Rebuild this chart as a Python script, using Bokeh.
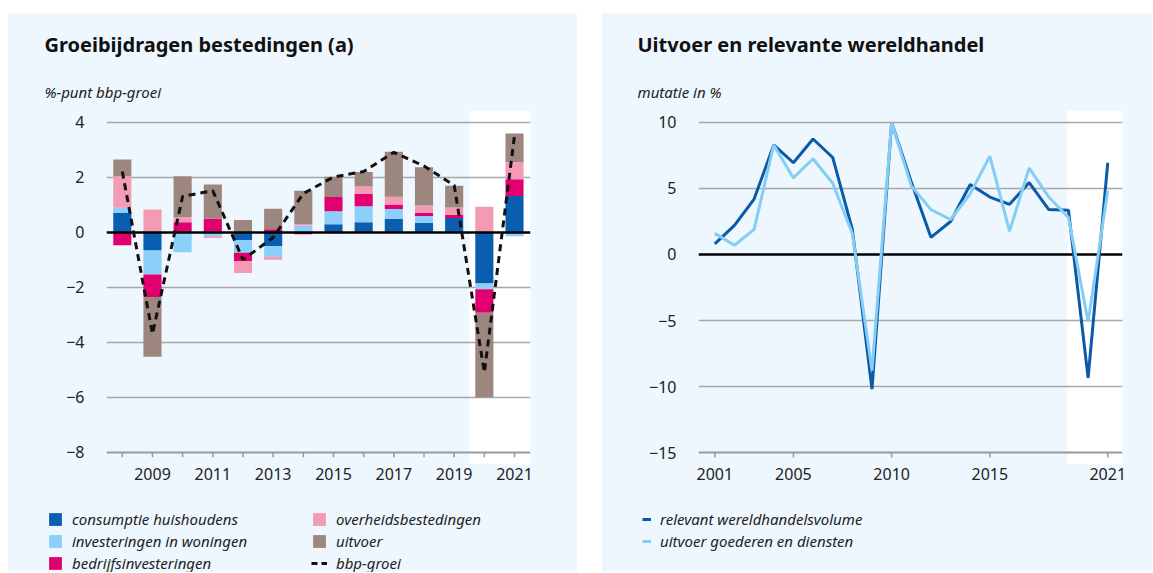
from bokeh.plotting import figure
from bokeh.models import BoxAnnotation, Legend, LegendItem, Label, FixedTicker, Spacer, Range1d
from bokeh.layouts import row, column
from bokeh.embed import file_html
from bokeh.resources import INLINE

# ---------------- data: left chart ----------------
years_l = [2008, 2009, 2010, 2011, 2012, 2013, 2014, 2015, 2016, 2017, 2018, 2019, 2020, 2021]
consumptie = [0.70, -0.67, 0.00, 0.00, -0.30, -0.51, 0.00, 0.28, 0.36, 0.48, 0.34, 0.51, -1.87, 1.31]
woningen = [0.18, -0.87, -0.73, -0.15, -0.45, -0.39, 0.24, 0.48, 0.58, 0.36, 0.24, 0.00, -0.21, -0.15]
bedrijf = [-0.48, -0.82, 0.36, 0.48, -0.30, 0.10, -0.08, 0.51, 0.45, 0.16, 0.12, 0.11, -0.85, 0.61]
overheid = [1.15, 0.82, 0.18, -0.07, -0.44, -0.11, 0.05, -0.05, 0.27, 0.28, 0.27, 0.27, 0.92, 0.63]
uitvoer = [0.61, -2.17, 1.49, 1.25, 0.44, 0.75, 1.21, 0.74, 0.52, 1.64, 1.39, 0.79, -3.07, 1.03]
bbp = [2.2, -3.7, 1.3, 1.5, -1.0, -0.2, 1.4, 2.0, 2.2, 2.9, 2.4, 1.7, -5.1, 3.5]
labels_l = ["consumptie huishoudens", "investeringen in woningen", "bedrijfsinvesteringen",
            "overheidsbestedingen", "uitvoer", "bbp-groei"]
yticks_l = [4, 2, 0, -2, -4, -6, -8]
xticks_l = [2009, 2011, 2013, 2015, 2017, 2019, 2021]

# ---------------- data: right chart ----------------
years_r = list(range(2001, 2022))
wereldhandel = [0.8, 2.2, 4.2, 8.3, 6.95, 8.75, 7.35, 1.9, -10.2, 10.0, 5.5, 1.3, 2.5, 5.3,
                4.35, 3.8, 5.45, 3.4, 3.35, -9.35, 6.95]
uitvoer_gd = [1.6, 0.7, 1.9, 8.3, 5.8, 7.25, 5.4, 1.6, -8.8, 10.0, 5.2, 3.4, 2.65, 4.6,
              7.45, 1.75, 6.55, 4.35, 2.8, -5.1, 4.85]
labels_r = ["relevant wereldhandelsvolume", "uitvoer goederen en diensten"]
yticks_r = [10, 5, 0, -5, -10, -15]
xticks_r = [2001, 2005, 2010, 2015, 2021]

# ---------------- styles ----------------
BG = "#eef7fe"
C_CONS = "#0a5eaf"
C_WON = "#8ccff8"
C_BED = "#e2006f"
C_OVH = "#f39ab4"
C_UIT = "#9c867e"
C_DARK = "#0b5aa8"
C_LIGHT = "#84cdf5"
GRID = "#a8a8a8"
AXIS = "#9a9a9a"
TXT = "#222222"
FONT = "Noto Sans"

HEAD_H = 97
FRAME_H = 354
AX_H = 30
LEG_H = 78
LEG_TOP = 15
PANEL_STYLE = {"background-color": BG}


def minus(v):
    return f"{v:g}".replace("-", "\u2212")


def base_fig(width, height, **kw):
    p = figure(width=width, height=height, output_backend="svg", toolbar_location=None,
               title_location=None, **kw)
    p.background_fill_color = BG
    p.border_fill_color = BG
    p.outline_line_color = None
    p.grid.visible = False
    return p


def header(width, x0, title, subtitle):
    h = base_fig(width, HEAD_H, x_range=Range1d(0, width), y_range=Range1d(0, HEAD_H),
                 x_axis_location=None, y_axis_location=None, min_border=0,
                 min_border_left=0, min_border_right=0, min_border_top=0, min_border_bottom=0)
    h.add_layout(Label(x=x0, y=HEAD_H - 49.5 + 19, text=title, text_font=FONT,
                       text_font_size="20px", text_font_style="bold", text_color="#111111",
                       text_align="left", text_baseline="alphabetic"))
    h.add_layout(Label(x=x0, y=HEAD_H - 97.5 + 19, text=subtitle, text_font=FONT,
                       text_font_size="15px", text_font_style="italic", text_color=TXT,
                       text_align="left", text_baseline="alphabetic"))
    return row(h, styles=PANEL_STYLE)


def legend_fig(width, left, specs, gw, gh, spacing):
    # the legend swatches come from renderers of the data that lie outside this small view
    f = base_fig(width, LEG_H, x_range=Range1d(0, 1), y_range=Range1d(0, 1),
                 x_axis_location=None, y_axis_location=None,
                 min_border_left=left, min_border_top=LEG_TOP, min_border_right=0,
                 min_border_bottom=0)
    items = []
    for label, kind, col, dash, xs, ys in specs:
        if kind == "bar":
            r = f.vbar(x=xs, top=ys, width=0.5, fill_color=col, line_color=None)
        else:
            r = f.line(x=xs, y=ys, line_color=col, line_width=3, line_dash=dash)
        items.append(LegendItem(label=label, renderers=[r]))
    leg = Legend(items=items, location="top_left", orientation="vertical",
                 glyph_width=gw, glyph_height=gh, label_height=gh, label_standoff=9,
                 spacing=spacing, padding=0, margin=0,
                 border_line_color=None, background_fill_alpha=0,
                 label_text_font=FONT, label_text_font_size="15px",
                 label_text_font_style="italic", label_text_color=TXT)
    f.add_layout(leg)
    return f


def main_fig(width, left, frame_w, xr, yr, yticks, xticks, minor, tick_len):
    p = base_fig(width, FRAME_H + AX_H, x_range=Range1d(*xr), y_range=Range1d(*yr),
                 min_border_left=left, min_border_right=width - left - frame_w,
                 min_border_top=0, min_border_bottom=AX_H)

    ya = p.yaxis[0]
    ya.ticker = FixedTicker(ticks=yticks)
    ya.axis_line_color = None
    ya.major_tick_line_color = None
    ya.minor_tick_line_color = None
    ya.major_tick_out = 0
    ya.major_tick_in = 0
    ya.major_label_standoff = 22
    ya.major_label_text_font = FONT
    ya.major_label_text_font_size = "16px"
    ya.major_label_text_color = TXT
    ya.major_label_overrides = {t: minus(t) for t in yticks}

    xa = p.xaxis[0]
    xa.ticker = FixedTicker(ticks=xticks)
    xa.axis_line_color = None
    xa.major_tick_line_color = None
    xa.minor_tick_line_color = None
    xa.major_tick_out = 0
    xa.major_tick_in = 0
    xa.major_label_standoff = 3
    xa.major_label_text_font = FONT
    xa.major_label_text_font_size = "16px"
    xa.major_label_text_color = TXT
    xa.formatter.use_scientific = False

    ymin = yticks[-1]
    p.hspan(y=[t for t in yticks if t not in (0, ymin)], line_color=GRID, line_width=1.5)
    p.hspan(y=[ymin], line_color=AXIS, line_width=2)
    dy = tick_len * (yr[1] - yr[0]) / FRAME_H
    p.segment(x0=minor, y0=[ymin] * len(minor), x1=minor, y1=[ymin - dy] * len(minor),
              line_color=AXIS, line_width=1.5)
    return p


# ================= left panel =================
xr1 = (2007.476, 2021.53)
yr1 = (-8.447, 4.418)
p1 = main_fig(569, 98, 424, xr1, yr1, yticks_l, xticks_l, years_l, 5)
p1.add_layout(BoxAnnotation(left=2019.5, fill_color="white", fill_alpha=1, line_color=None,
                            level="underlay"))

series = [consumptie, woningen, bedrijf, overheid, uitvoer]
colors = [C_CONS, C_WON, C_BED, C_OVH, C_UIT]
pos = [0.0] * len(years_l)
neg = [0.0] * len(years_l)
for vals, col in zip(series, colors):
    bot, top = [], []
    for i, v in enumerate(vals):
        if v >= 0:
            bot.append(pos[i]); top.append(pos[i] + v); pos[i] += v
        else:
            bot.append(neg[i]); top.append(neg[i] + v); neg[i] += v
    p1.vbar(x=years_l, width=0.6, bottom=bot, top=top, fill_color=col, line_color=None)

p1.hspan(y=[0], line_color="black", line_width=2.5)
p1.line(years_l, bbp, line_color="#111111", line_width=3, line_dash="7 5")

h1 = header(569, 36, "Groeibijdragen bestedingen (a)", "%-punt bbp-groei")
lg1a = legend_fig(303, 39, [(labels_l[0], "bar", C_CONS, "solid", years_l, consumptie),
                            (labels_l[1], "bar", C_WON, "solid", years_l, woningen),
                            (labels_l[2], "bar", C_BED, "solid", years_l, bedrijf)], 16, 16, 2)
lg1b = legend_fig(266, 0, [(labels_l[3], "bar", C_OVH, "solid", years_l, overheid),
                           (labels_l[4], "bar", C_UIT, "solid", years_l, uitvoer),
                           (labels_l[5], "line", "#111111", "6 4", years_l, bbp)], 16, 16, 2)
left_col = column(h1, p1, row(lg1a, lg1b, styles=PANEL_STYLE), styles=PANEL_STYLE)

# ================= right panel =================
xr2 = (2000.17, 2021.75)
yr2 = (-15.909, 10.909)
p2 = main_fig(550, 96, 424, xr2, yr2, yticks_r, xticks_r, xticks_r, 5)
p2.add_layout(BoxAnnotation(left=2018.95, fill_color="white", fill_alpha=1, line_color=None,
                            level="underlay"))
p2.hspan(y=[0], line_color="black", line_width=2.5)
p2.line(years_r, wereldhandel, line_color=C_DARK, line_width=3)
p2.line(years_r, uitvoer_gd, line_color=C_LIGHT, line_width=3)

h2 = header(550, 35, "Uitvoer en relevante wereldhandel", "mutatie in %")
lg2 = legend_fig(550, 40, [(labels_r[0], "line", C_DARK, "solid", years_r, wereldhandel),
                           (labels_r[1], "line", C_LIGHT, "solid", years_r, uitvoer_gd)], 9, 16, 2)
right_col = column(h2, p2, row(lg2, styles=PANEL_STYLE), styles=PANEL_STYLE)

layout = column(Spacer(height=13), row(Spacer(width=8), left_col, Spacer(width=25), right_col))
open("out.html", "w").write(file_html(layout, INLINE))
